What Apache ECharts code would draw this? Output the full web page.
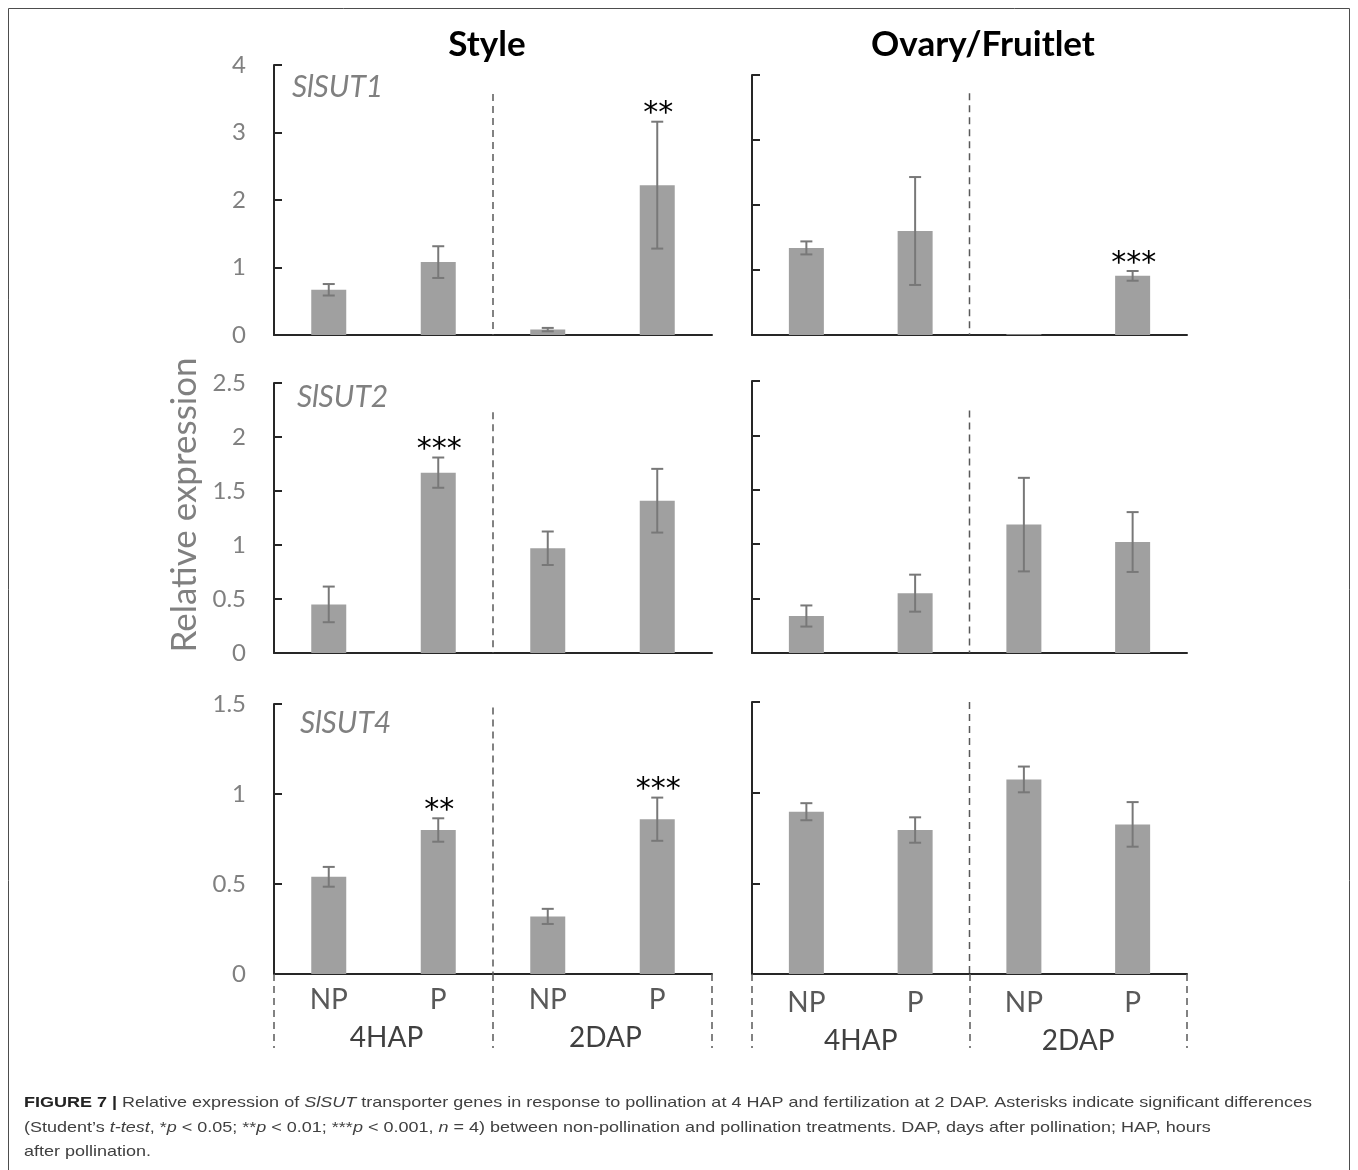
<!DOCTYPE html>
<html><head><meta charset="utf-8">
<script src="https://cdn.jsdelivr.net/npm/echarts@6/dist/echarts.min.js"></script>
<style>html,body{margin:0;padding:0;background:#fff}#c{width:1358px;height:1170px}</style>
</head><body><div id="c"></div>
<script>
// ---------- data ----------
const categories = ['NP', 'P', 'NP', 'P'];
const groups = ['4HAP', '2DAP'];
const genes = ['SlSUT1', 'SlSUT2', 'SlSUT4'];
const tissues = ['Style', 'Ovary/Fruitlet'];

const styleSUT1 = [0.67, 1.08, 0.08, 2.22];
const styleSUT1Err = [0.085, 0.235, 0.025, 0.94];
const styleSUT1Sig = ['', '', '', '**'];

const styleSUT2 = [0.45, 1.67, 0.97, 1.41];
const styleSUT2Err = [0.165, 0.14, 0.155, 0.295];
const styleSUT2Sig = ['', '***', '', ''];

const styleSUT4 = [0.54, 0.80, 0.32, 0.86];
const styleSUT4Err = [0.055, 0.065, 0.042, 0.12];
const styleSUT4Sig = ['', '**', '', '***'];

const ovarySUT1 = [1.34, 1.60, 0.01, 0.91];
const ovarySUT1Err = [0.10, 0.83, 0.0, 0.075];
const ovarySUT1Sig = ['', '', '', '***'];

const ovarySUT2 = [0.34, 0.55, 1.18, 1.02];
const ovarySUT2Err = [0.097, 0.17, 0.43, 0.275];
const ovarySUT2Sig = ['', '', '', ''];

const ovarySUT4 = [0.895, 0.794, 1.073, 0.825];
const ovarySUT4Err = [0.047, 0.07, 0.071, 0.123];
const ovarySUT4Sig = ['', '', '', ''];

const yMax = [4, 2.5, 1.5];
const yInterval = [1, 0.5, 0.5];

// ---------- layout (positions / styles) ----------
const panels = [
  {grid: {left: 274, top: 65, width: 438, height: 270}, row: 0, col: 0, m: styleSUT1, e: styleSUT1Err, s: styleSUT1Sig, divTop: 3.57},
  {grid: {left: 752, top: 75, width: 435, height: 260}, row: 0, col: 1, m: ovarySUT1, e: ovarySUT1Err, s: ovarySUT1Sig, divTop: 3.72},
  {grid: {left: 274, top: 383, width: 438, height: 270}, row: 1, col: 0, m: styleSUT2, e: styleSUT2Err, s: styleSUT2Sig, divTop: 2.23},
  {grid: {left: 752, top: 381, width: 435, height: 272}, row: 1, col: 1, m: ovarySUT2, e: ovarySUT2Err, s: ovarySUT2Sig, divTop: 2.23},
  {grid: {left: 274, top: 704, width: 438, height: 270}, row: 2, col: 0, m: styleSUT4, e: styleSUT4Err, s: styleSUT4Sig, divTop: 1.48},
  {grid: {left: 752, top: 702, width: 435, height: 272}, row: 2, col: 1, m: ovarySUT4, e: ovarySUT4Err, s: ovarySUT4Sig, divTop: 1.5}
];

const AX = '#262626';
const FONT = 'Lato, "Open Sans", sans-serif';
const grids = [], xAxes = [], yAxes = [], series = [];

panels.forEach((p, i) => {
  grids.push(Object.assign({containLabel: false}, p.grid));
  const bottomRow = p.row === 2;
  xAxes.push({
    gridIndex: i, type: 'category', data: categories,
    axisLine: {show: true, onZero: true, lineStyle: {color: AX, width: 2}},
    axisTick: {show: false},
    axisLabel: bottomRow ? {show: true, margin: p.col === 0 ? 12 : 15, fontSize: 28, color: '#595959', fontFamily: FONT} : {show: false},
    splitLine: {show: false}
  });
  const xIdx = xAxes.length - 1;
  if (bottomRow) {
    xAxes.push({
      gridIndex: i, type: 'category', data: groups, position: 'bottom', offset: 0,
      axisLine: {show: false},
      axisTick: {show: true, length: 74, lineStyle: {type: [7, 5], color: '#595959', width: 1.5}},
      axisLabel: {show: true, margin: p.col === 0 ? 50 : 53, fontSize: 28, color: '#404040', fontFamily: FONT,
                  padding: p.col === 0 ? [0, 0, 0, 6] : [0, 0, 0, 0]},
      splitLine: {show: false}
    });
  }
  yAxes.push({
    gridIndex: i, type: 'value', min: 0, max: yMax[p.row], interval: yInterval[p.row],
    axisLine: {show: true, lineStyle: {color: AX, width: 2}},
    axisTick: {show: true, inside: true, length: 8, lineStyle: {color: AX, width: 2}},
    splitLine: {show: false},
    axisLabel: p.col === 0 ? {show: true, fontSize: 24, color: '#808080', margin: 28, fontFamily: FONT} : {show: false}
  });
  series.push({
    type: 'bar', xAxisIndex: xIdx, yAxisIndex: i, data: p.m, barWidth: 35,
    itemStyle: {color: '#a0a0a0'}, silent: true, animation: false
  });
  series.push({
    type: 'custom', xAxisIndex: xIdx, yAxisIndex: i, animation: false, silent: true, z: 5,
    data: p.m.map((v, k) => [k, v, p.e[k]]),
    renderItem: function (params, api) {
      const k = params.dataIndex;
      const x = api.value(0), m = api.value(1), e = api.value(2);
      const top = api.coord([x, m + e]);
      const bot = api.coord([x, m - e]);
      const children = [];
      const ls = {stroke: '#787878', lineWidth: 2};
      if (e > 0) {
        children.push({type: 'line', shape: {x1: top[0], y1: top[1], x2: bot[0], y2: bot[1]}, style: ls});
        children.push({type: 'line', shape: {x1: top[0] - 6, y1: top[1], x2: top[0] + 6, y2: top[1]}, style: ls});
        children.push({type: 'line', shape: {x1: bot[0] - 6, y1: bot[1], x2: bot[0] + 6, y2: bot[1]}, style: ls});
      }
      if (p.s[k]) {
        children.push({type: 'text', style: {text: p.s[k], x: top[0] + 1, y: top[1] - 7, textAlign: 'center', textVerticalAlign: 'middle', font: '30px "DejaVu Sans", sans-serif', fill: '#000'}});
      }
      if (k === 1) {
        const a = api.coord([1, 0]), b = api.coord([2, 0]);
        const mx = (a[0] + b[0]) / 2;
        const yt = api.coord([1, p.divTop])[1];
        children.push({type: 'line', shape: {x1: mx, y1: yt, x2: mx, y2: a[1]}, style: {stroke: '#595959', lineWidth: 1.5, lineDash: [7, 5]}});
      }
      return {type: 'group', children: children};
    }
  });
});

const captionText =
  '{b|FIGURE 7 |} Relative expression of {i|SlSUT} transporter genes in response to pollination at 4 HAP and fertilization at 2 DAP. Asterisks indicate significant differences\n' +
  '(Student\u2019s {i|t-test}, *{i|p} < 0.05; **{i|p} < 0.01; ***{i|p} < 0.001, {i|n} = 4) between non-pollination and pollination treatments. DAP, days after pollination; HAP, hours\n' +
  'after pollination.';

const CAP = '"Liberation Sans", Arial, sans-serif';
const graphic = [
  {type: 'rect', shape: {x: 8.5, y: 8.5, width: 1341, height: 1175}, style: {fill: 'none', stroke: '#4d4d4d', lineWidth: 1}, silent: true},
  {type: 'text', style: {text: tissues[0], x: 487, y: 45, textAlign: 'center', textVerticalAlign: 'middle', font: 'bold 35px ' + FONT, fill: '#000'}},
  {type: 'text', style: {text: tissues[1], x: 983, y: 45, textAlign: 'center', textVerticalAlign: 'middle', font: 'bold 35px ' + FONT, fill: '#000'}},
  {type: 'text', style: {text: genes[0], x: 292, y: 87, textAlign: 'left', textVerticalAlign: 'middle', font: 'italic 30px ' + FONT, fill: '#808080'}},
  {type: 'text', style: {text: genes[1], x: 297, y: 397, textAlign: 'left', textVerticalAlign: 'middle', font: 'italic 30px ' + FONT, fill: '#808080'}},
  {type: 'text', style: {text: genes[2], x: 300, y: 723, textAlign: 'left', textVerticalAlign: 'middle', font: 'italic 30px ' + FONT, fill: '#808080'}},
  {type: 'text', x: 185, y: 505, rotation: Math.PI / 2, style: {text: 'Relative expression', x: 0, y: 0, textAlign: 'center', textVerticalAlign: 'middle', font: '35px ' + FONT, fill: '#808080'}},
  {type: 'text', x: 24, y: 1091, scaleX: 1.2, style: {
    text: captionText, x: 0, y: 0, textAlign: 'left', textVerticalAlign: 'top',
    font: '15px ' + CAP, fill: '#404040', lineHeight: 24.5,
    rich: {
      b: {fontWeight: 'bold', fontSize: 15, fontFamily: CAP, fill: '#222', lineHeight: 24.5},
      i: {fontStyle: 'italic', fontSize: 15, fontFamily: CAP, fill: '#404040', lineHeight: 24.5}
    }
  }}
];

const chart = echarts.init(document.getElementById('c'), null, {renderer: 'canvas'});
chart.setOption({
  animation: false,
  grid: grids, xAxis: xAxes, yAxis: yAxes, series: series, graphic: graphic
});
</script>
</body></html>
